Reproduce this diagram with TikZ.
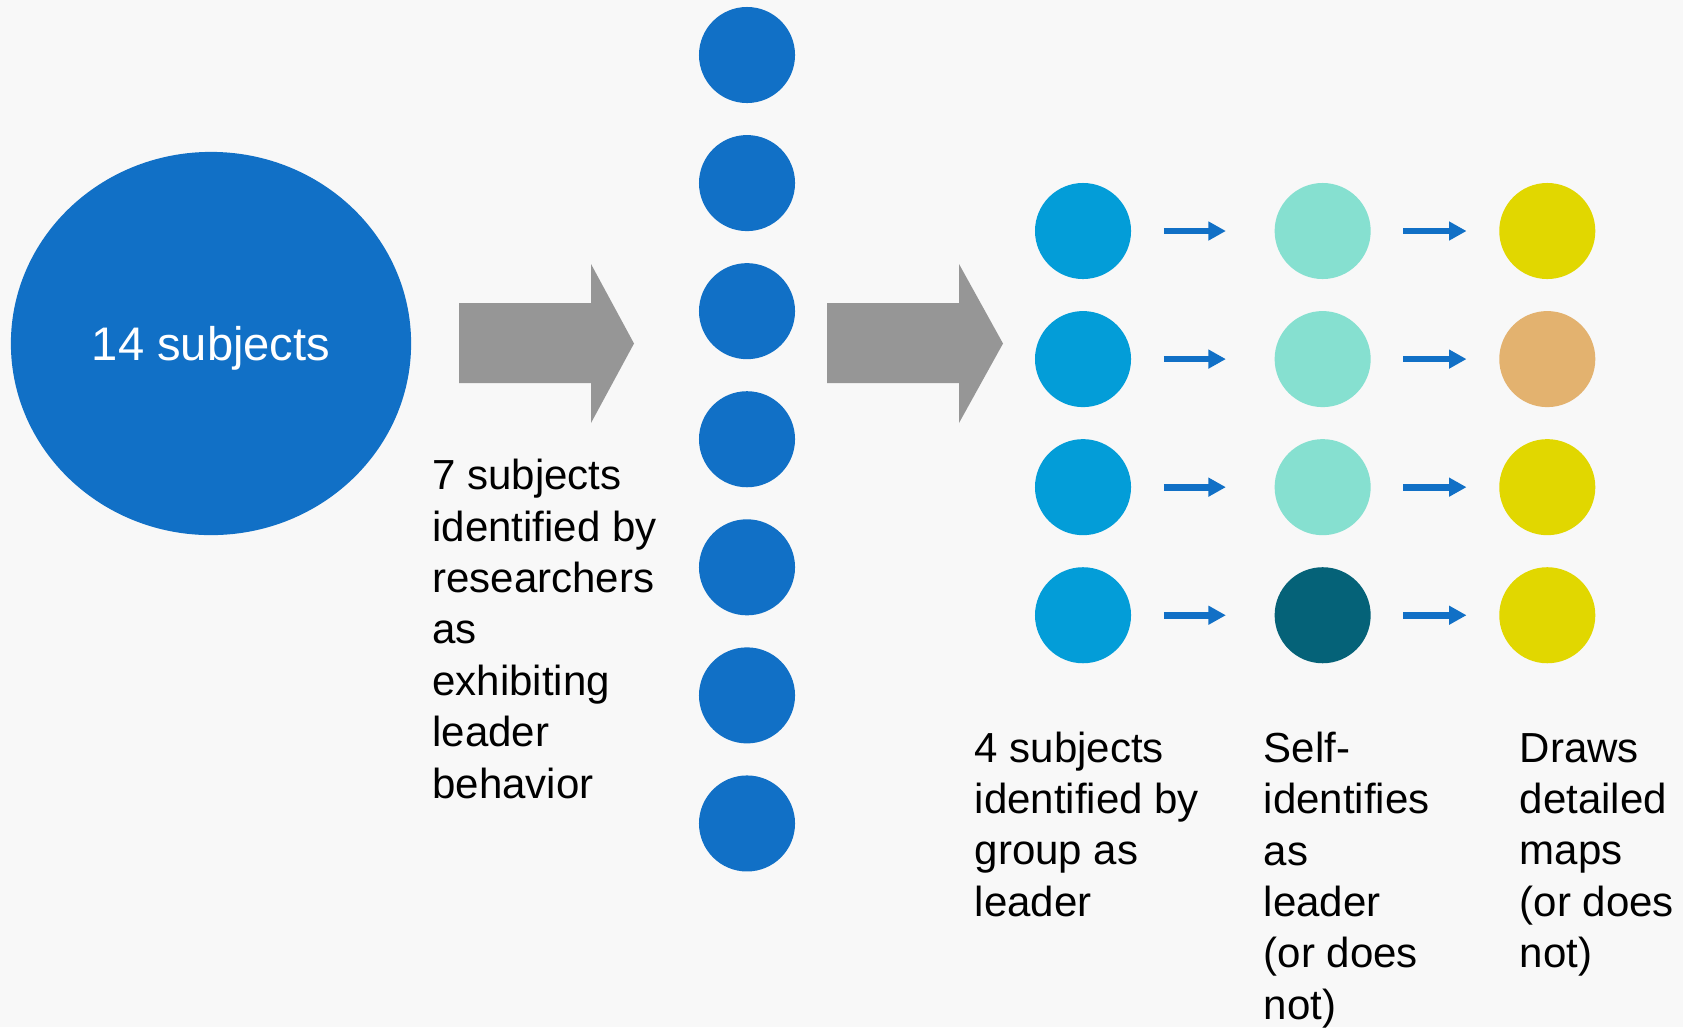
\documentclass[tikz,border=0pt]{standalone}
\usepackage{fontspec}
\setmainfont{Liberation Sans}
\usetikzlibrary{positioning,arrows.meta,shapes.geometric}
\definecolor{paper}{HTML}{F8F8F8}
\definecolor{deepblue}{HTML}{1170C6}
\definecolor{skyblue}{HTML}{039DD8}
\definecolor{mint}{HTML}{86E0D0}
\definecolor{petrol}{HTML}{056278}
\definecolor{mustard}{HTML}{E1D700}
\definecolor{sand}{HTML}{E3B26F}
\definecolor{slab}{HTML}{969696}
\tikzset{
chart/.style={
    x=0.01cm,
    y=-0.01cm,
    node distance=1.28cm
},
crowd/.style={
    ellipse,
    fill=deepblue,
    minimum width=4cm,
    minimum height=3.83cm,
    inner sep=0pt,
    text depth=0pt,
    text=white,
    font=\fontsize{13.4pt}{16pt}\selectfont
},
blob/.style={
    circle,
    minimum size=0.96cm,
    inner sep=0pt
},
subjdot/.style={
    blob,
    fill=deepblue
},
groupdot/.style={
    blob,
    fill=skyblue
},
selfdot/.style={
    blob,
    fill=mint
},
mapdot/.style={
    blob,
    fill=mustard
},
% anchored on the baseline of the last line
note/.style={
    anchor=base west,
    align=left,
    inner sep=0pt,
    font=\fontsize{11.95pt}{14.6pt}\selectfont
},
leads/.style={
    -{Triangle[length=0.175cm,width=0.18cm]},
    draw=deepblue,
    line width=0.067cm,
    shorten <=0.32cm,
    shorten >=0.32cm
}}

\begin{document}
\begin{tikzpicture}[chart]
\fill[paper] (0,0) rectangle (1683,1027);

\node[crowd]    (all)    at (211,343.5)    {14 subjects};

% block arrows
\fill[slab] (459,303) -- (591,303) -- (591,264) -- (634,343.5) -- (591,423) -- (591,383) -- (459,383) -- cycle;
\fill[slab] (827,303) -- (959,303) -- (959,264) -- (1003,343.5) -- (959,423) -- (959,383) -- (827,383) -- cycle;

\node[subjdot]    (s1)    at (747,55)    {};
\node[subjdot]    (s2)    [below of = s1]    {};
\node[subjdot]    (s3)    [below of = s2]    {};
\node[subjdot]    (s4)    [below of = s3]    {};
\node[subjdot]    (s5)    [below of = s4]    {};
\node[subjdot]    (s6)    [below of = s5]    {};
\node[subjdot]    (s7)    [below of = s6]    {};

\node[groupdot]    (g1)    at (1083,231)    {};
\node[groupdot]    (g2)    [below of = g1]    {};
\node[groupdot]    (g3)    [below of = g2]    {};
\node[groupdot]    (g4)    [below of = g3]    {};

\node[selfdot]    (f1)    [node distance=2.395cm, right of = g1]    {};
\node[selfdot]    (f2)    [below of = f1]    {};
\node[selfdot]    (f3)    [below of = f2]    {};
\node[selfdot, fill=petrol]    (f4)    [below of = f3]    {};

\node[mapdot]    (m1)    [node distance=2.245cm, right of = f1]    {};
\node[mapdot, fill=sand]    (m2)    [below of = m1]    {};
\node[mapdot]    (m3)    [below of = m2]    {};
\node[mapdot]    (m4)    [below of = m3]    {};

\path    (g1)    edge[leads, shorten >=0.48cm]    (f1);
\path    (g2)    edge[leads, shorten >=0.48cm]    (f2);
\path    (g3)    edge[leads, shorten >=0.48cm]    (f3);
\path    (g4)    edge[leads, shorten >=0.48cm]    (f4);

\path    (f1)    edge[leads]    (m1);
\path    (f2)    edge[leads]    (m2);
\path    (f3)    edge[leads]    (m3);
\path    (f4)    edge[leads]    (m4);

\node[note]    (picked)    at (431.7,798)    {7 subjects\\identified by\\researchers\\as\\exhibiting\\leader\\behavior};
\node[note]    (named)    at (974,916)    {4 subjects\\identified by\\group as\\leader};
\node[note]    (self)    at (1263,1019)    {Self-\\identifies\\as\\leader\\(or does\\not)};
\node[note]    (maps)    at (1519,967.5)    {Draws\\detailed\\maps\\(or does\\not)};
\end{tikzpicture}
\end{document}
